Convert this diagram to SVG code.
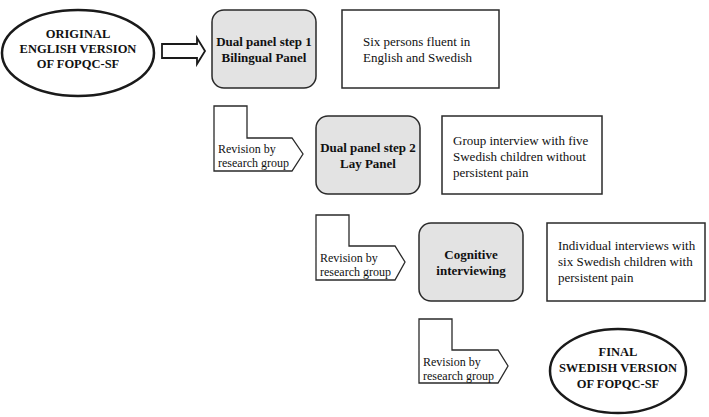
<svg xmlns="http://www.w3.org/2000/svg" width="709" height="417" viewBox="0 0 709 417">
<style>
.bg{fill:#ffffff}
.ell{fill:#ffffff;stroke:#1a1a1a;stroke-width:2.5}
.step{fill:#e3e3e3;stroke:#2a2a2a;stroke-width:1.5}
.info{fill:#ffffff;stroke:#2a2a2a;stroke-width:1.5}
.rev{fill:#ffffff;stroke:#2a2a2a;stroke-width:1.3}
.conn{fill:#ffffff;stroke:#1a1a1a;stroke-width:1.8}
.t{font-family:'Liberation Serif','DejaVu Serif',serif;fill:#111111}
.b{font-weight:bold;font-size:13px}
.eb{font-weight:bold;font-size:12.5px}
.r{font-size:13px}
.s{font-size:12px}
</style>
<rect class="bg" x="0" y="0" width="709" height="417"/>
<g id="connectors">
<path class="conn" d="M162,44 L197,44 L197,38 L205,51 L197,64 L197,58 L162,58 Z"/>
</g>
<g id="original">
<ellipse class="ell" cx="78" cy="53" rx="76" ry="43"/>
<text class="t eb" text-anchor="middle" x="78" y="38">ORIGINAL</text>
<text class="t eb" text-anchor="middle" x="78" y="53">ENGLISH VERSION</text>
<text class="t eb" text-anchor="middle" x="78" y="68">OF FOPQC-SF</text>
</g>
<g id="step1">
<rect class="step" x="212" y="10" width="104" height="78" rx="12"/>
<text class="t b" text-anchor="middle" x="264" y="46">Dual panel step 1</text>
<text class="t b" text-anchor="middle" x="264" y="62">Bilingual Panel</text>
</g>
<g id="info1">
<rect class="info" x="342" y="10" width="157" height="78"/>
<text class="t r" x="363" y="46">Six persons fluent in</text>
<text class="t r" x="363" y="62">English and Swedish</text>
</g>
<g id="rev1">
<path class="rev" d="M214,106 L247,106 L247,138 L292,138 L303,154 L292,171 L214,171 Z"/>
<text class="t s" x="218" y="153">Revision by</text>
<text class="t s" x="218" y="167">research group</text>
</g>
<g id="step2">
<rect class="step" x="316" y="116" width="104" height="78" rx="12"/>
<text class="t b" text-anchor="middle" x="368" y="152">Dual panel step 2</text>
<text class="t b" text-anchor="middle" x="368" y="168">Lay Panel</text>
</g>
<g id="info2">
<rect class="info" x="442" y="116" width="160" height="78"/>
<text class="t r" x="453" y="145">Group interview with five</text>
<text class="t r" x="453" y="161">Swedish children without</text>
<text class="t r" x="453" y="177">persistent pain</text>
</g>
<g id="rev2">
<path class="rev" d="M316,215 L349,215 L349,246 L395,246 L405,262 L395,280 L316,280 Z"/>
<text class="t s" x="320" y="262">Revision by</text>
<text class="t s" x="320" y="276">research group</text>
</g>
<g id="step3">
<rect class="step" x="419" y="223" width="104" height="78" rx="12"/>
<text class="t b" text-anchor="middle" x="471" y="259">Cognitive</text>
<text class="t b" text-anchor="middle" x="471" y="275">interviewing</text>
</g>
<g id="info3">
<rect class="info" x="547" y="223" width="158" height="78"/>
<text class="t r" x="558" y="250">Individual interviews with</text>
<text class="t r" x="558" y="266">six Swedish children with</text>
<text class="t r" x="558" y="282">persistent pain</text>
</g>
<g id="rev3">
<path class="rev" d="M419,319 L452,319 L452,350 L498,350 L508,366 L498,383 L419,383 Z"/>
<text class="t s" x="423" y="366">Revision by</text>
<text class="t s" x="423" y="380">research group</text>
</g>
<g id="final">
<ellipse class="ell" cx="618" cy="371" rx="68" ry="42"/>
<text class="t eb" text-anchor="middle" x="618" y="356">FINAL</text>
<text class="t eb" text-anchor="middle" x="618" y="372">SWEDISH VERSION</text>
<text class="t eb" text-anchor="middle" x="618" y="388">OF FOPQC-SF</text>
</g>
</svg>
